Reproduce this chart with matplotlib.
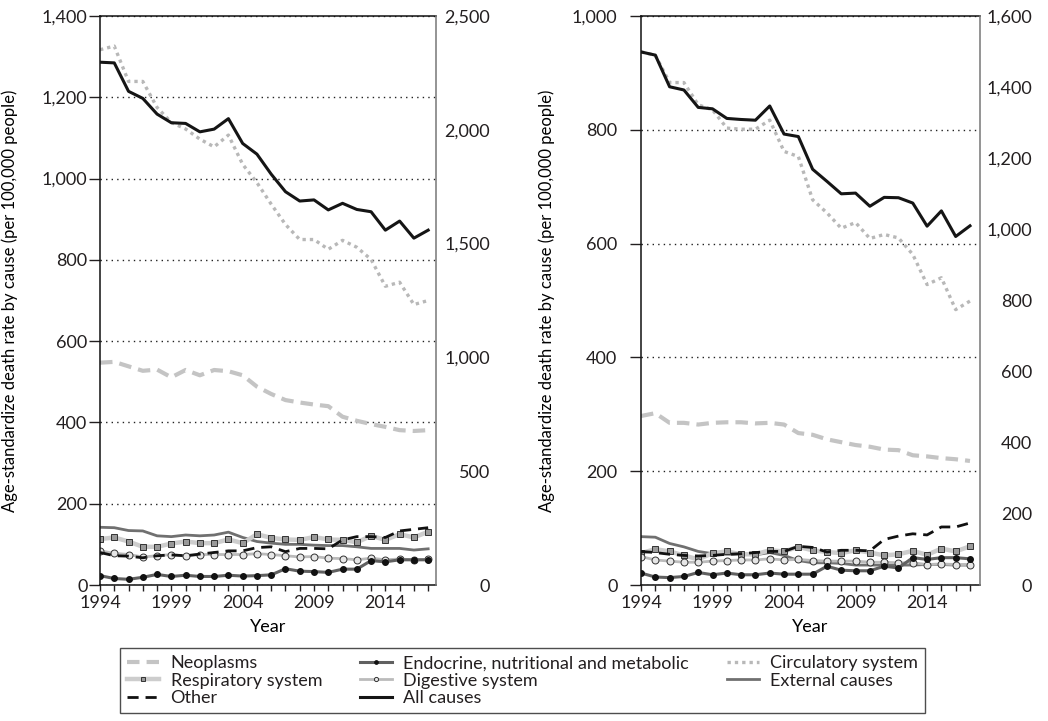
import matplotlib
matplotlib.use("Agg")
import matplotlib.pyplot as plt
from matplotlib.ticker import StrMethodFormatter

plt.rcParams['font.family'] = ['Lato', 'DejaVu Sans']
plt.rcParams['font.size'] = 13
plt.rcParams['text.color'] = '#231f20'
plt.rcParams['xtick.color'] = '#231f20'
plt.rcParams['ytick.color'] = '#231f20'

years = list(range(1994, 2018))
year_ticks = [1994, 1999, 2004, 2009, 2014]

# left panel (left axis, except all causes on right axis)
a_neo = [547, 549, 538, 527, 530, 511, 529, 516, 529, 526, 516, 488, 470, 455, 449, 444, 440, 414, 404, 396, 389, 381, 379, 381]
a_circ = [1317, 1326, 1239, 1239, 1175, 1138, 1122, 1097, 1078, 1107, 1035, 990, 937, 887, 850, 850, 826, 848, 831, 801, 735, 745, 690, 700]
a_ext = [142, 141, 134, 133, 121, 119, 123, 121, 123, 130, 117, 107, 103, 100, 100, 98, 97, 97, 94, 90, 90, 90, 86, 89]
a_resp = [113, 117, 107, 94, 94, 102, 107, 103, 103, 112, 103, 125, 116, 112, 111, 118, 112, 111, 105, 121, 111, 125, 117, 131]
a_other = [80, 72, 71, 67, 72, 74, 72, 76, 80, 84, 84, 92, 94, 82, 90, 90, 89, 111, 119, 119, 117, 133, 137, 141]
a_dig = [84, 78, 75, 69, 72, 75, 71, 75, 75, 75, 75, 77, 75, 72, 69, 70, 66, 65, 62, 66, 62, 64, 62, 63]
a_endo = [23, 16, 14, 19, 26, 21, 24, 21, 21, 24, 22, 23, 25, 40, 34, 33, 31, 39, 39, 60, 57, 62, 62, 62]
a_all = [2297, 2294, 2169, 2138, 2069, 2031, 2028, 1991, 2003, 2049, 1940, 1893, 1805, 1728, 1687, 1692, 1648, 1677, 1650, 1640, 1559, 1599, 1524, 1559]

# right panel
b_neo = [297, 302, 285, 285, 282, 285, 286, 286, 284, 285, 282, 267, 264, 256, 251, 246, 243, 238, 237, 228, 226, 223, 221, 218]
b_circ = [937, 931, 883, 883, 844, 835, 803, 801, 801, 817, 762, 753, 677, 654, 627, 637, 609, 616, 610, 581, 528, 540, 484, 499]
b_ext = [85, 84, 73, 67, 59, 55, 54, 54, 53, 57, 52, 43, 39, 39, 38, 35, 35, 35, 35, 35, 36, 36, 35, 35]
b_resp = [56, 63, 59, 52, 45, 56, 59, 54, 54, 61, 59, 67, 61, 58, 56, 61, 57, 52, 54, 60, 53, 64, 59, 68]
b_other = [59, 57, 54, 52, 51, 52, 54, 55, 57, 59, 59, 68, 66, 58, 61, 61, 60, 80, 86, 90, 88, 102, 102, 109]
b_dig = [50, 44, 42, 40, 40, 42, 43, 44, 44, 46, 44, 45, 43, 42, 42, 42, 40, 40, 39, 39, 36, 37, 36, 36]
b_endo = [21, 14, 13, 15, 22, 18, 21, 18, 18, 21, 19, 19, 19, 33, 26, 25, 25, 33, 30, 48, 45, 48, 48, 46]
b_all = [1499, 1490, 1401, 1392, 1343, 1339, 1312, 1309, 1307, 1347, 1268, 1261, 1169, 1135, 1100, 1102, 1065, 1090, 1089, 1074, 1009, 1052, 980, 1010]

fig = plt.figure(figsize=(10.48, 7.21), dpi=100)


def panel(rect, neo, circ, ext, resp, other, dig, endo, allc, ymax, ymax2, step2, ylab_x, ypad, rpad, xmax):
    ax = fig.add_axes(rect)
    ax2 = ax.twinx()
    h = {}
    h['neo'], = ax.plot(years, neo, color='#c4c4c4', lw=3, dashes=(3, 1.7), label='Neoplasms')
    h['circ'], = ax.plot(years, circ, color='#b8b8b8', lw=2.4, dashes=(1, 1.2), label='Circulatory system')
    h['ext'], = ax.plot(years, ext, color='#707070', lw=2, label='External causes')
    h['resp'], = ax.plot(years, resp, color='#cdcdcd', lw=3.2, marker='s', ms=5,
                         mfc='#9a9a9a', mec='#333333', mew=0.7, label='Respiratory system')
    h['dig'], = ax.plot(years, dig, color='#bbbbbb', lw=2, marker='o', ms=5,
                        mfc='#e6e6e6', mec='#333333', mew=0.7, label='Digestive system')
    h['other'], = ax.plot(years, other, color='#111111', lw=2, dashes=(4, 2.5), label='Other')
    h['endo'], = ax.plot(years, endo, color='#606060', lw=2.2, marker='o', ms=4,
                         mfc='#111111', mec='#111111', label='Endocrine, nutritional and metabolic')
    h['all'], = ax2.plot(years, allc, color='#151515', lw=2.2, label='All causes')

    ax.set_xlim(1994, xmax)
    ax.set_ylim(0, ymax)
    ax2.set_ylim(0, ymax2)
    ax.set_yticks(range(0, ymax + 1, 200))
    ax.yaxis.set_major_formatter(StrMethodFormatter('{x:,.0f}'))
    ax.set_xticks(year_ticks)
    ax.set_xticks(years, minor=True)
    ax.tick_params(axis='y', length=8, width=1, pad=ypad)
    ax.tick_params(axis='x', which='both', length=4, width=1, pad=3)
    ax.grid(axis='y', color='#222222', lw=1, linestyle=(0, (1, 3)))
    ax.set_xlabel('Year', labelpad=6)
    ax.set_ylabel('Age-standardize death rate by cause (per 100,000 people)', fontsize=12)
    ax.yaxis.set_label_coords(ylab_x, 0.5)

    ax2.set_yticks(range(0, ymax2 + 1, step2))
    ax2.yaxis.set_major_formatter(StrMethodFormatter('{x:,.0f}'))
    ax2.tick_params(axis='y', length=0, pad=rpad)
    for t in ax2.get_yticklabels():
        t.set_horizontalalignment('right')

    for s in ['left', 'top', 'bottom']:
        ax.spines[s].set_color('#111111')
        ax.spines[s].set_linewidth(1.1)
        ax2.spines[s].set_visible(False)
    ax.spines['right'].set_visible(False)
    ax2.spines['right'].set_color('#777777')
    ax2.spines['right'].set_linewidth(1.1)
    return h


h = panel([100 / 1048, 1 - 585 / 721, 336 / 1048, 569 / 721],
          a_neo, a_circ, a_ext, a_resp, a_other, a_dig, a_endo, a_all,
          1400, 2500, 500, -0.245, 1, 39, 2017.55)
panel([641 / 1048, 1 - 585 / 721, 339 / 1048, 569 / 721],
      b_neo, b_circ, b_ext, b_resp, b_other, b_dig, b_endo, b_all,
      1000, 1600, 200, -0.255, 9, 37.5, 2017.7)

order = ['neo', 'resp', 'other', 'endo', 'dig', 'all', 'circ', 'ext']
leg = fig.legend([h[k] for k in order], [h[k].get_label() for k in order],
                 ncol=3, loc='upper left', bbox_to_anchor=(120 / 1048, 1 - 648 / 721),
                 frameon=True, fancybox=False, edgecolor='#222222', fontsize=13,
                 markerscale=0.6, handlelength=1.75, handletextpad=0.65, columnspacing=2.1,
                 labelspacing=0.08, borderpad=0.4, borderaxespad=0)
leg.get_frame().set_linewidth(1)

plt.savefig('out.png', dpi=100)
